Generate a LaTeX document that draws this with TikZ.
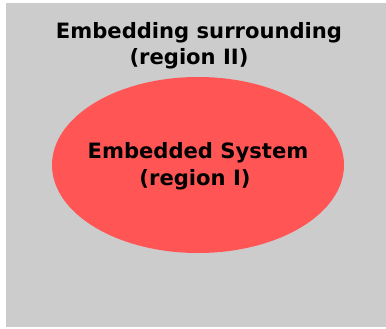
\documentclass[tikz,border=0pt]{standalone}
\usepackage{fontspec}
\setmainfont{DejaVu Sans}
\usetikzlibrary{shapes.geometric, positioning}

\definecolor{envgray}{HTML}{CCCCCC}
\definecolor{sysred}{HTML}{FF5555}

\begin{document}
\begin{tikzpicture}[
  x=1pt, y=-1pt,
  region/.style = {inner sep=0pt, outer sep=0pt},
  txt/.style    = {anchor=base, inner sep=0pt, font=\fontsize{21.1}{25}\selectfont\bfseries},
]
\useasboundingbox (0,0) rectangle (386,329);

% -- region II: the surrounding --------------------------------------------
\node[region, fill=envgray, minimum width=380pt, minimum height=324pt]
      (env) at (196,165) {};
\node[txt] (envA) at (199,38.5) {Embedding surrounding};
\node[txt] (envB) at (189,64.5) {(region II)};

% -- region I: the embedded system -----------------------------------------
\node[region, ellipse, fill=sysred, minimum width=292pt, minimum height=176pt]
      (sys) at (198,165) {};
\node[txt] (sysA) at (198,158) {Embedded System};
\node[txt] (sysB) at (195,185) {(region I)};

\end{tikzpicture}
\end{document}
